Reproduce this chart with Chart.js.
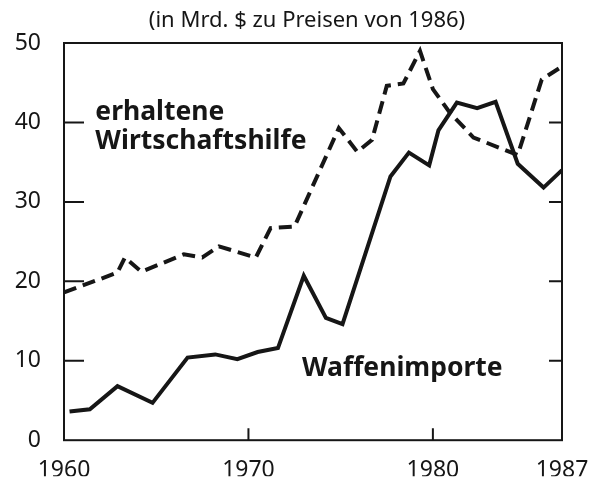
<!DOCTYPE html>
<html>
<head>
<meta charset="utf-8">
<script src="https://cdn.jsdelivr.net/npm/chart.js@4"></script>
<style>
  body { margin: 0; background: #fff; }
  #wrap { width: 600px; height: 477px; }
</style>
</head>
<body>
<div id="wrap"><canvas id="myChart"></canvas></div>
<script>
"use strict";

const titleText = '(in Mrd. $ zu Preisen von 1986)';
const xTickLabels = [1960, 1970, 1980, 1987];
const yTickLabels = [0, 10, 20, 30, 40, 50];

// Waffenimporte (solid)
const armsYears  = [1960.3, 1961.4, 1962.9, 1964.8, 1966.7, 1968.2, 1969.4, 1970.5, 1971.6, 1973.0, 1974.2, 1975.1, 1977.7, 1978.7, 1979.8, 1980.3, 1981.3, 1982.4, 1983.4, 1984.6, 1986.0, 1987.0];
const armsValues = [3.6, 3.9, 6.8, 4.7, 10.4, 10.8, 10.2, 11.1, 11.6, 20.7, 15.4, 14.6, 33.2, 36.2, 34.6, 39.0, 42.5, 41.8, 42.6, 34.8, 31.8, 34.0];

// erhaltene Wirtschaftshilfe (dashed)
const aidYears  = [1960.0, 1962.9, 1963.3, 1964.2, 1966.5, 1967.5, 1968.4, 1970.4, 1971.2, 1972.5, 1974.9, 1975.9, 1976.7, 1977.5, 1978.4, 1979.3, 1980.0, 1980.9, 1982.2, 1984.6, 1985.9, 1986.9];
const aidValues = [18.6, 21.1, 23.0, 21.2, 23.4, 23.0, 24.4, 23.0, 26.7, 26.9, 39.3, 36.3, 37.8, 44.6, 44.9, 49.0, 44.2, 41.3, 38.1, 35.9, 45.4, 46.9];

const toPoints = (xs, ys) => xs.map((x, i) => ({ x: x, y: ys[i] }));

const ink = '#161616';

// title, box, inward ticks and series labels
const decor = {
  id: 'decor',
  afterDraw(chart) {
    const { ctx, chartArea: a, scales: { x, y } } = chart;
    ctx.save();
    ctx.fillStyle = ink;
    ctx.font = '22px "Noto Sans"';
    ctx.textAlign = 'center';
    ctx.textBaseline = 'middle';
    ctx.fillText(titleText, 307, 21);

    ctx.strokeStyle = ink;
    ctx.lineWidth = 2;
    ctx.strokeRect(a.left, a.top, a.right - a.left, a.bottom - a.top);
    ctx.beginPath();
    yTickLabels.slice(1, -1).forEach(v => {
      const py = y.getPixelForValue(v);
      ctx.moveTo(a.left, py); ctx.lineTo(a.left + 20, py);
      ctx.moveTo(a.right, py); ctx.lineTo(a.right - 13, py);
    });
    xTickLabels.slice(1, -1).forEach(v => {
      const px = x.getPixelForValue(v);
      ctx.moveTo(px, a.bottom); ctx.lineTo(px, a.bottom - 12);
    });
    ctx.stroke();

    ctx.font = 'bold 26.5px "Noto Sans"';
    ctx.textAlign = 'left';
    ctx.textBaseline = 'alphabetic';
    ctx.fillText('erhaltene', x.getPixelForValue(1961.7), y.getPixelForValue(40.3));
    ctx.fillText('Wirtschaftshilfe', x.getPixelForValue(1961.7), y.getPixelForValue(36.7));
    ctx.fillText('Waffenimporte', x.getPixelForValue(1972.9), y.getPixelForValue(8.1));
    ctx.restore();
  }
};

const ctx = document.getElementById('myChart').getContext('2d');
const myChart = new Chart(ctx, {
  type: 'line',
  data: {
    datasets: [{
      label: 'erhaltene Wirtschaftshilfe',
      data: toPoints(aidYears, aidValues),
      borderColor: ink,
      borderWidth: 4,
      borderDash: [13, 7],
      pointRadius: 0,
      tension: 0
    }, {
      label: 'Waffenimporte',
      data: toPoints(armsYears, armsValues),
      borderColor: ink,
      borderWidth: 4,
      pointRadius: 0,
      tension: 0
    }]
  },
  options: {
    responsive: true,
    maintainAspectRatio: false,
    animation: false,
    layout: { padding: { left: 0, right: 38, top: 43, bottom: 0 } },
    plugins: {
      legend: { display: false },
      tooltip: { enabled: false }
    },
    scales: {
      x: {
        type: 'linear',
        min: 1960,
        max: 1987,
        afterBuildTicks: scale => { scale.ticks = xTickLabels.map(v => ({ value: v })); },
        afterFit: scale => {
          scale.height = 36;
          scale.paddingLeft = 0;
          scale.paddingRight = 0;
        },
        grid: { display: false, drawTicks: false },
        border: { display: false },
        ticks: {
          color: ink,
          padding: 16,
          maxRotation: 0,
          autoSkip: false,
          font: { family: 'Noto Sans', size: 23 },
          callback: v => String(v)
        }
      },
      y: {
        min: 0,
        max: 50,
        afterBuildTicks: scale => { scale.ticks = yTickLabels.map(v => ({ value: v })); },
        afterFit: scale => { scale.width = 64; },
        grid: { display: false, drawTicks: false },
        border: { display: false },
        ticks: {
          color: ink,
          padding: 23,
          font: { family: 'Noto Sans', size: 23 }
        }
      }
    }
  },
  plugins: [decor]
});
</script>
</body>
</html>
